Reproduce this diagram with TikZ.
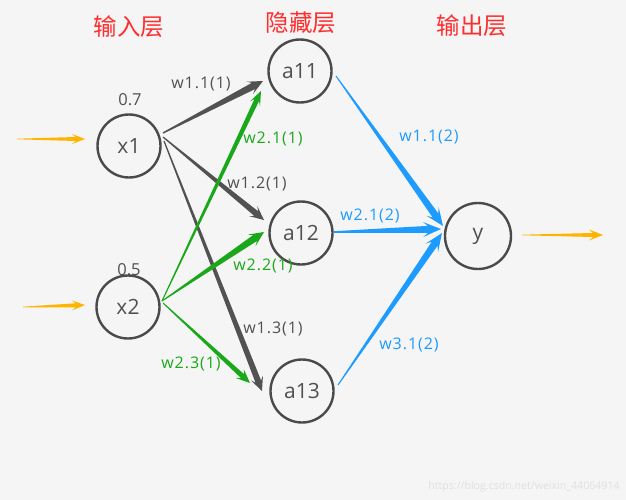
\documentclass[tikz,border=0pt]{standalone}
\usepackage{fontspec}
\setmainfont{Open Sans}
\newfontfamily\cjk{Noto Sans CJK SC}
\newfontfamily\wfont[LetterSpace=6]{Open Sans}
\usetikzlibrary{calc}
\definecolor{bg}{HTML}{F5F5F5}
\definecolor{ring}{HTML}{4A4A4A}
\definecolor{txt}{HTML}{505050}
\definecolor{garr}{HTML}{525252}
\definecolor{grn}{HTML}{1AA81A}
\definecolor{blu}{HTML}{1E9BFF}
\definecolor{yel}{HTML}{FFB400}
\definecolor{ttl}{HTML}{FF2D2D}
\definecolor{wm}{HTML}{E0E0E0}
\tikzset{
  neuron/.style={circle, draw=ring, line width=2.4pt, fill=bg, minimum size=63pt,
    inner sep=0pt, text=txt, font=\fontsize{21}{21}\selectfont},
  title/.style={text=ttl, font=\cjk\fontsize{23.5}{24}\selectfont},
  wlab/.style={font=\wfont\fontsize{16}{16}\selectfont, inner sep=0pt},
  vallab/.style={font=\fontsize{16.5}{16}\selectfont, inner sep=0pt, text=txt},
}
% #1 from, #2 to, #3 start half-width, #4 end half-width, #5 head half-width, #6 head length, #7 colour
\newcommand\wedgearrow[7]{%
  \pgfmathsetmacro\wgin{0.72*#6}%
  \coordinate (wgb) at ($(#2)!#6pt!(#1)$);
  \coordinate (wgi) at ($(#2)!\wgin pt!(#1)$);
  \fill[#7] ($(#1)!#3pt!90:(#2)$) -- ($(wgi)!#4pt!90:(#2)$) -- ($(wgb)!#5pt!90:(#2)$)
    -- (#2) -- ($(wgb)!#5pt!-90:(#2)$) -- ($(wgi)!#4pt!-90:(#2)$)
    -- ($(#1)!#3pt!-90:(#2)$) -- cycle;
}
\begin{document}
\begin{tikzpicture}[x=1pt,y=-1pt]
\fill[bg] (0,0) rectangle (626,500);
\useasboundingbox (0,0) rectangle (626,500);

% titles
\node[title] (t1) at (129,27) {输入层};
\node[title] (t2) at (301,23) {隐藏层};
\node[title] (t3) at (472,26) {输出层};

% input values
\node[vallab] (v1) at (130,100) {0.7};
\node[vallab] (v2) at (129,270) {0.5};

% neurons
\node[neuron] (x1) at (129,146) {x1};
\node[neuron] (x2) at (128,307) {x2};
\node[neuron] (a11) at (300,71) {a11};
\node[neuron] (a12) at (301,233) {a12};
\node[neuron] (a13) at (302,391) {a13};
\node[neuron, minimum size=66pt] (y) at (478,236) {y};

% anchor points on the neurons
\coordinate (x1o1) at ($(x1)+(34,-13)$);
\coordinate (x1o2) at ($(x1)+(34,-9)$);
\coordinate (x1o3) at ($(x1)+(35,-5)$);
\coordinate (x2o) at ($(x2)+(34,-6)$);
\coordinate (x2o3) at ($(x2)+(35,-4)$);
\coordinate (a11i1) at ($(a11)+(-37,10)$);
\coordinate (a11i2) at ($(a11)+(-39,20)$);
\coordinate (a12i1) at ($(a12)+(-37,-13)$);
\coordinate (a12i2) at ($(a12)+(-37,-1)$);
\coordinate (a13i1) at ($(a13)+(-40,0)$);
\coordinate (a13i2) at ($(a13)+(-52,-8)$);
\coordinate (a11o) at ($(a11)+(36,5)$);
\coordinate (a12o) at ($(a12)+(33,-1)$);
\coordinate (a13o) at ($(a13)+(36,-6)$);
\coordinate (yi1) at ($(y)+(-35,-10)$);
\coordinate (yi2) at ($(y)+(-37,-7)$);
\coordinate (yi3) at ($(y)+(-36,-3)$);
\coordinate (yo) at ($(y)+(44,-1)$);
\coordinate (x1i) at ($(x1)+(-44,-7)$);
\coordinate (x2i) at ($(x2)+(-43,-2)$);
\coordinate (in1) at (17,139);
\coordinate (in2) at (23,307);
\coordinate (out) at (603,235);

% input -> hidden (grey)
\wedgearrow{x1o1}{a11i1}{0.7}{3.5}{7}{15}{garr}
\wedgearrow{x1o2}{a12i1}{0.6}{3}{6.5}{14}{garr}
\wedgearrow{x1o3}{a13i1}{0.6}{3}{6.5}{14}{garr}
% input -> hidden (green)
\wedgearrow{x2o}{a11i2}{0.5}{2.5}{5.5}{14}{grn}
\wedgearrow{x2o}{a12i2}{0.5}{3.5}{7}{15}{grn}
\wedgearrow{x2o3}{a13i2}{0.5}{2.5}{6}{14}{grn}
% hidden -> output (blue)
\wedgearrow{a11o}{yi1}{0.5}{3.5}{7.5}{18}{blu}
\wedgearrow{a12o}{yi2}{0.8}{3.5}{7.5}{18}{blu}
\wedgearrow{a13o}{yi3}{0.5}{3.5}{7.5}{18}{blu}
% inputs / output (yellow)
\wedgearrow{in1}{x1i}{0.3}{2}{5}{13}{yel}
\wedgearrow{in2}{x2i}{0.3}{2}{5}{13}{yel}
\wedgearrow{yo}{out}{0.3}{2}{5.5}{14}{yel}

% weight labels
\node[wlab, text=txt] (l1) at (201,84) {w1.1(1)};
\node[wlab, text=grn] (l2) at (273,139) {w2.1(1)};
\node[wlab, text=txt] (l3) at (257,184) {w1.2(1)};
\node[wlab, text=grn] (l4) at (263,266) {w2.2(1)};
\node[wlab, text=txt] (l5) at (273,329) {w1.3(1)};
\node[wlab, text=grn] (l6) at (191,364) {w2.3(1)};
\node[wlab, text=blu] (l7) at (429,137) {w1.1(2)};
\node[wlab, text=blu] (l8) at (370,216) {w2.1(2)};
\node[wlab, text=blu] (l9) at (409,345) {w3.1(2)};

% watermark
\node[text=wm, font=\fontsize{10.6}{11}\selectfont, inner sep=0pt] (wmk) at (524,487) {https://blog.csdn.net/weixin\_44064914};
\end{tikzpicture}
\end{document}
